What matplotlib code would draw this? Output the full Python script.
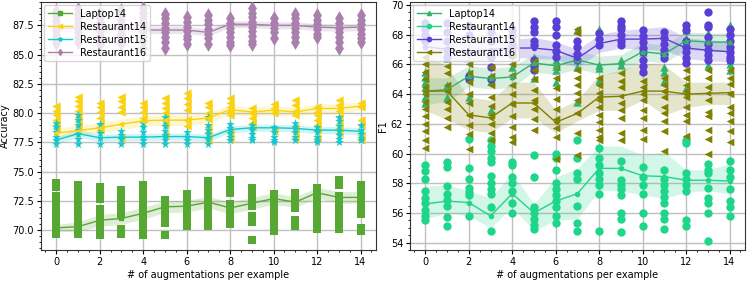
import matplotlib
matplotlib.use('Agg')
import matplotlib.pyplot as plt
import numpy as np

xs = list(range(15))
names = ['Laptop14', 'Restaurant14', 'Restaurant15', 'Restaurant16']

# ---- left panel: accuracy, individual runs per number of augmentations
acc_lap14 = [[74.0, 73.7, 72.9, 72.5, 72.0, 71.6, 71.0, 70.5, 70.0, 69.7],
             [73.9, 73.5, 73.0, 72.5, 71.9, 71.4, 70.9, 70.4, 69.9, 69.7],
             [73.7, 73.3, 72.7, 71.8, 71.3, 70.8, 70.4, 70.0, 69.6],
             [73.4, 72.9, 72.4, 71.9, 71.4, 70.1, 69.7],
             [73.9, 73.3, 72.7, 72.1, 71.5, 70.9, 70.3, 69.6],
             [72.6, 72.1, 71.6, 71.1, 70.6, 69.6],
             [73.1, 72.6, 72.1, 71.8, 71.2, 70.8, 70.4],
             [74.2, 73.7, 73.3, 72.9, 72.4, 71.9, 71.2, 70.7, 70.4],
             [74.3, 73.9, 73.5, 73.2, 72.2, 71.7, 71.2, 70.7, 70.5],
             [73.6, 73.1, 72.6, 72.1, 71.2, 70.7, 69.2],
             [73.1, 72.6, 72.1, 71.6, 71.1, 70.6, 70.2, 69.9],
             [73.2, 72.8, 72.3, 71.9, 70.9, 70.4],
             [73.6, 73.1, 72.5, 72.1, 71.5, 70.9, 70.4, 70.1],
             [74.3, 73.9, 72.9, 72.3, 71.7, 71.1, 70.5, 70.1],
             [73.9, 73.4, 73.1, 72.6, 72.0, 71.4, 70.2, 69.9]]
acc_lap14_mean = [70.2, 70.3, 70.85, 71.0, 71.45, 72.0, 72.05, 72.4, 71.9, 72.3, 72.7, 72.4, 73.2, 72.8, 72.8]
acc_lap14_err = [0.3, 0.4, 0.5, 0.5, 0.5, 0.5, 0.5, 0.5, 0.5, 0.5, 0.5, 0.45, 0.45, 0.5, 0.5]

acc_res14 = [[80.6, 80.2, 79.8, 79.4, 79.0, 78.7],
             [81.4, 81.0, 80.6, 80.2, 79.7, 79.3, 78.9],
             [80.9, 80.5, 80.1, 79.6, 79.1, 78.6],
             [81.4, 81.0, 80.5, 80.1, 77.9],
             [80.9, 80.5, 80.1, 79.6],
             [81.3, 80.9, 80.4, 80.0, 79.4, 79.0, 78.1],
             [81.7, 81.3, 80.8, 80.3, 79.4, 78.9],
             [80.9, 80.5, 80.0, 79.5, 78.8, 78.4, 77.7],
             [81.3, 80.9, 80.5, 80.1, 79.8, 78.3, 77.8],
             [80.4, 80.0, 79.6, 79.2, 78.8],
             [80.8, 80.4, 80.0, 78.5],
             [81.1, 80.7, 80.2, 79.8, 78.8, 78.4, 77.9],
             [80.5, 80.1, 79.8, 79.4, 79.0, 78.6, 77.9],
             [81.1, 80.7, 80.2, 79.7, 79.1, 78.7, 78.3],
             [80.9, 80.5, 79.4, 79.0, 78.1, 77.7]]
acc_res14_mean = [78.3, 78.5, 78.75, 79.05, 79.35, 79.4, 79.4, 79.6, 80.3, 80.1, 80.25, 80.1, 80.4, 80.4, 80.6]
acc_res14_err = [0.4, 0.45, 0.45, 0.45, 0.45, 0.45, 0.45, 0.45, 0.4, 0.4, 0.4, 0.4, 0.4, 0.4, 0.35]

acc_res15 = [[79.2, 78.8, 78.4, 78.0, 77.7, 77.4],
             [79.8, 79.4, 79.0, 78.6, 78.2, 77.8, 77.4],
             [79.1, 78.7, 78.3, 77.9, 77.4],
             [78.5, 78.1, 77.8, 77.4],
             [79.2, 78.8, 78.4, 78.0, 77.7, 77.4],
             [79.7, 79.3, 78.9, 78.5, 78.1, 77.7, 77.4],
             [78.4, 78.0, 77.7, 77.4],
             [79.7, 79.0, 78.6, 78.2, 77.8, 77.4],
             [79.1, 78.7, 78.3, 78.0, 77.7],
             [79.0, 78.6, 78.2, 77.9, 77.7],
             [78.8, 78.4, 78.0, 77.7, 77.5],
             [79.2, 78.8, 78.4, 78.0, 77.7],
             [78.8, 78.4, 78.0, 77.7, 77.5],
             [79.7, 79.3, 78.9, 78.5, 78.1, 77.8, 77.5],
             [79.0, 78.6, 78.2, 77.9, 77.7]]
acc_res15_mean = [77.7, 78.25, 77.9, 77.95, 77.95, 78.0, 78.0, 77.9, 78.6, 78.75, 78.75, 78.7, 78.55, 78.55, 78.45]
acc_res15_err = [0.3, 0.35, 0.3, 0.3, 0.3, 0.3, 0.3, 0.3, 0.3, 0.3, 0.3, 0.3, 0.3, 0.3, 0.3]

acc_res16 = [[88.7, 88.3, 87.9, 87.5, 87.1, 86.7, 86.3, 86.0],
             [88.9, 88.5, 88.1, 87.7, 87.3, 86.9, 86.5, 86.1],
             [88.6, 88.2, 87.8, 87.4, 87.0, 86.6, 86.2, 85.9],
             [88.8, 88.4, 88.0, 87.6, 87.2, 86.8, 86.4, 86.0],
             [89.0, 88.6, 88.2, 87.8, 87.4, 87.0, 86.6, 86.2, 85.6],
             [88.5, 88.1, 87.7, 87.3, 86.9, 86.5, 86.1, 85.6],
             [88.2, 87.8, 87.4, 87.0, 86.6, 86.3, 85.9],
             [88.4, 88.0, 87.6, 87.2, 86.8, 86.4, 85.9],
             [88.1, 87.7, 87.3, 86.9, 86.5, 86.1, 85.8],
             [89.0, 88.6, 88.2, 87.8, 87.4, 87.0, 86.6, 86.2, 85.9],
             [88.1, 87.7, 87.3, 86.9, 86.4],
             [88.5, 88.1, 87.7, 87.3, 86.9, 86.5, 86.1],
             [88.4, 88.0, 87.6, 87.2, 86.8, 86.5],
             [88.1, 87.7, 87.3, 86.9, 86.5, 86.1, 85.6],
             [88.4, 88.0, 87.6, 87.2, 86.8, 86.4, 86.1]]
acc_res16_mean = [87.2, 87.3, 87.1, 87.3, 87.1, 87.1, 87.1, 86.9, 87.6, 87.6, 87.5, 87.5, 87.35, 87.3, 87.35]
acc_res16_err = [0.3, 0.3, 0.3, 0.3, 0.3, 0.3, 0.3, 0.3, 0.3, 0.3, 0.3, 0.3, 0.3, 0.3, 0.3]

# ---- right panel: F1
f1_lap14 = [[65.5, 65.15, 64.8, 64.5, 63.8, 63.4],
            [66.4, 64.6, 63.8],
            [65.5, 63.8],
            [65.2, 64.9, 62.9],
            [68.65, 67.8, 65.85],
            [66.5, 66.1, 65.8, 65.1],
            [66.3, 65.9, 65.6, 64.8],
            [68.3, 65.8, 63.5],
            [68.4, 65.95, 65.75, 64.95],
            [66.3, 65.95],
            [66.85, 65.6],
            [65.8, 65.5, 64.9],
            [68.3, 67.8, 67.5, 64.4],
            [68.1, 67.5, 65.95],
            [68.65, 68.3, 66.3, 66.0, 65.6]]
f1_lap14_mean = [64.2, 64.3, 65.2, 65.05, 65.15, 66.1, 65.9, 66.3, 65.95, 66.05, 66.85, 66.7, 67.6, 67.5, 67.5]
f1_lap14_err = [0.9, 0.8, 0.7, 0.7, 0.7, 0.6, 0.6, 0.6, 0.6, 0.6, 0.6, 0.6, 0.6, 0.6, 0.6]

f1_res14 = [[59.2, 58.8, 58.3, 57.5, 57.0, 56.7, 56.2, 55.8, 55.5],
            [59.4, 59.1, 57.8, 57.3, 56.9, 56.5, 55.7, 55.1],
            [61.0, 59.0, 58.3, 57.7, 57.4, 57.2, 55.8],
            [60.9, 60.5, 60.2, 59.7, 59.4, 58.5, 58.0, 57.6, 57.3, 56.4, 54.8],
            [59.4, 59.2, 58.4, 58.0, 57.5, 56.7, 56.0],
            [59.9, 58.4, 56.4, 56.0, 55.6, 55.2, 54.9],
            [60.0, 59.7, 58.9, 58.0, 57.6, 57.2, 56.8, 56.4, 55.8, 55.3],
            [60.9, 59.7, 58.7, 58.3, 56.5, 55.3, 54.8],
            [60.4, 59.7, 59.2, 58.7, 58.3, 57.9, 57.3, 54.8],
            [59.5, 58.2, 57.9, 57.6, 57.2, 56.0, 55.6, 54.7],
            [59.1, 58.4, 57.9, 57.3, 56.0, 55.1],
            [58.9, 58.3, 57.9, 57.5, 57.1, 56.7, 56.0, 55.6, 54.9],
            [60.9, 60.7, 58.7, 58.3, 57.9, 57.5, 55.5, 55.1],
            [59.3, 58.9, 58.7, 57.7, 57.0, 56.7, 56.0, 54.1],
            [59.5, 58.9, 58.4, 57.6, 56.8, 56.4, 55.8]]
f1_res14_mean = [56.6, 56.8, 56.7, 55.8, 57.3, 56.0, 56.8, 57.3, 59.0, 59.0, 58.5, 58.45, 58.2, 58.2, 58.15]
f1_res14_lo = [55.6, 56.0, 55.8, 55.0, 56.4, 54.8, 55.5, 55.6, 57.5, 57.5, 57.2, 57.0, 57.4, 57.5, 57.3]
f1_res14_hi = [57.8, 57.9, 57.5, 57.0, 58.7, 56.6, 58.4, 59.0, 60.5, 60.5, 59.9, 60.1, 58.9, 58.9, 59.3]

f1_res15 = [[68.8, 68.4, 68.0, 67.6],
            [68.8, 68.2, 67.6, 67.0, 66.5],
            [68.6, 68.0, 65.2, 65.0],
            [68.2, 67.6, 66.5, 65.8, 65.0],
            [68.3, 67.9, 67.3, 66.9, 66.6],
            [68.9, 68.5, 68.2, 67.6, 67.3, 66.3, 65.9, 65.6],
            [68.9, 68.5, 68.0, 67.3, 66.9, 66.5],
            [67.6, 67.2, 66.7, 66.3],
            [68.1, 67.7, 67.3],
            [68.9, 68.6, 68.4, 68.0, 67.6, 67.3],
            [68.3, 67.9, 67.5, 67.1, 66.8, 66.3, 65.9, 65.5],
            [68.2, 67.8, 67.4, 67.0, 66.7, 66.4],
            [68.65, 68.3, 67.6, 67.2, 66.8, 66.4, 66.1],
            [69.55, 68.65, 68.5, 67.85, 67.4, 67.0, 66.6, 66.3],
            [68.4, 68.0, 67.6, 67.2, 66.8, 66.5, 66.3]]
f1_res15_mean = [67.2, 67.0, 66.8, 67.0, 67.1, 67.1, 66.95, 66.4, 67.4, 67.7, 67.7, 67.75, 67.1, 66.95, 66.85]
f1_res15_err = [0.6, 0.6, 0.7, 0.6, 0.6, 0.7, 0.6, 0.6, 0.6, 0.6, 0.7, 0.8, 0.7, 0.7, 0.7]

f1_res16 = [[66.5, 66.0, 65.5, 65.0, 64.5, 64.0, 63.5, 63.0, 62.5, 62.0, 61.5, 60.9, 60.4],
            [65.9, 65.4, 64.6, 64.2, 63.5, 63.0, 62.4, 61.8],
            [66.0, 65.4, 64.8, 64.0, 63.4, 62.6, 61.9, 61.3, 60.3],
            [65.8, 65.2, 64.6, 63.8, 63.2, 62.6, 62.0, 61.4, 60.9],
            [66.6, 66.0, 65.3, 64.6, 64.0, 63.3, 62.5, 61.8, 61.1, 60.8],
            [66.2, 65.6, 65.0, 64.3, 63.6, 63.0, 62.3, 61.6],
            [65.8, 65.1, 64.4, 63.7, 63.0, 62.3, 61.7, 61.1, 59.6],
            [68.4, 68.1, 65.6, 65.1, 64.6, 64.1, 63.6, 62.7, 61.4, 59.9],
            [65.1, 64.6, 64.1, 63.6, 63.1, 62.6, 62.1, 61.6, 61.1, 60.9],
            [65.4, 64.9, 64.5, 63.4, 62.9, 62.4, 61.4, 60.9],
            [64.9, 64.5, 64.0, 63.6, 62.9, 62.4, 61.6, 61.0],
            [65.1, 64.6, 64.2, 63.8, 63.1, 62.7, 62.2, 61.5, 60.2],
            [65.6, 65.1, 64.6, 64.2, 63.8, 63.1, 62.6, 62.2, 61.2],
            [65.6, 65.1, 64.5, 63.6, 62.8, 62.5, 61.6, 61.0, 60.0],
            [65.6, 65.1, 64.7, 64.0, 63.1, 62.7, 62.2, 61.5, 60.8]]
f1_res16_mean = [64.2, 64.2, 62.6, 62.4, 63.4, 63.4, 62.1, 62.7, 63.8, 63.85, 64.2, 64.2, 64.0, 64.05, 64.1]
f1_res16_lo = [62.9, 62.3, 61.6, 61.4, 62.4, 62.4, 61.4, 62.2, 62.9, 62.9, 63.6, 62.6, 63.1, 63.3, 63.3]
f1_res16_hi = [66.9, 65.8, 63.8, 63.6, 64.8, 64.8, 62.9, 63.6, 65.3, 65.6, 66.1, 65.95, 64.8, 64.8, 64.8]

plt.rcParams['font.family'] = 'DejaVu Sans'
plt.rcParams['font.size'] = 7

fig = plt.figure(figsize=(7.47, 2.81), dpi=100)
ax1 = fig.add_axes([0.055, 0.11, 0.448, 0.883])
ax2 = fig.add_axes([0.549, 0.11, 0.448, 0.883])


def draw(ax, pts, mean, lo, hi, color, marker, label, ms=6):
    mean = np.array(mean)
    ax.fill_between(xs, lo, hi, color=color, alpha=0.2, lw=0, zorder=2)
    for x, vals in zip(xs, pts):
        ax.scatter([x] * len(vals), vals, s=ms ** 2, marker=marker, color=color,
                   lw=0, zorder=3)
    ax.plot(xs, mean, color=color, lw=1, marker=marker, ms=3, label=label, zorder=4)


left = [(acc_lap14, acc_lap14_mean, acc_lap14_err, '#57a832', 's', 6),
        (acc_res14, acc_res14_mean, acc_res14_err, '#f9d310', '<', 6),
        (acc_res15, acc_res15_mean, acc_res15_err, '#14c8cc', '*', 6.5),
        (acc_res16, acc_res16_mean, acc_res16_err, '#a97fad', 'd', 7.5)]
for (pts, m, e, c, mk, sz), name in zip(left, names):
    m = np.array(m)
    e = np.array(e)
    draw(ax1, pts, m, m - e, m + e, c, mk, name, ms=sz)

f1_lap14_m = np.array(f1_lap14_mean)
f1_res15_m = np.array(f1_res15_mean)
draw(ax2, f1_lap14, f1_lap14_m, f1_lap14_m - np.array(f1_lap14_err),
     f1_lap14_m + np.array(f1_lap14_err), '#34b26c', '^', names[0])
draw(ax2, f1_res14, f1_res14_mean, f1_res14_lo, f1_res14_hi, '#1ed68a', 'o', names[1])
draw(ax2, f1_res15, f1_res15_m, f1_res15_m - np.array(f1_res15_err),
     f1_res15_m + np.array(f1_res15_err), '#5a3fd4', 'o', names[2])
draw(ax2, f1_res16, f1_res16_mean, f1_res16_lo, f1_res16_hi, '#808000', '<', names[3], ms=5.5)

ax1.set_ylim(68.3, 89.5)
ax1.set_yticks([70.0, 72.5, 75.0, 77.5, 80.0, 82.5, 85.0, 87.5])
ax1.set_ylabel('Accuracy', labelpad=2)
ax2.set_ylim(53.5, 70.2)
ax2.set_yticks(range(54, 71, 2))
ax2.set_ylabel('F1', labelpad=2)

for ax in (ax1, ax2):
    ax.set_xlim(-0.7, 14.7)
    ax.set_xticks(range(0, 15, 2))
    ax.minorticks_on()
    ax.grid(True, which='major', color='#c0c0c0', lw=1)
    ax.set_axisbelow(True)
    ax.set_xlabel('# of augmentations per example', labelpad=2)
    ax.tick_params(which='major', length=3, pad=2)
    ax.tick_params(which='minor', length=1.5)
    for sp in ax.spines.values():
        sp.set_color('#333333')
    ax.legend(loc='upper left', fontsize=7, borderaxespad=0.3, handlelength=2.5,
              labelspacing=0.3)

fig.savefig('out.png', dpi=100)
